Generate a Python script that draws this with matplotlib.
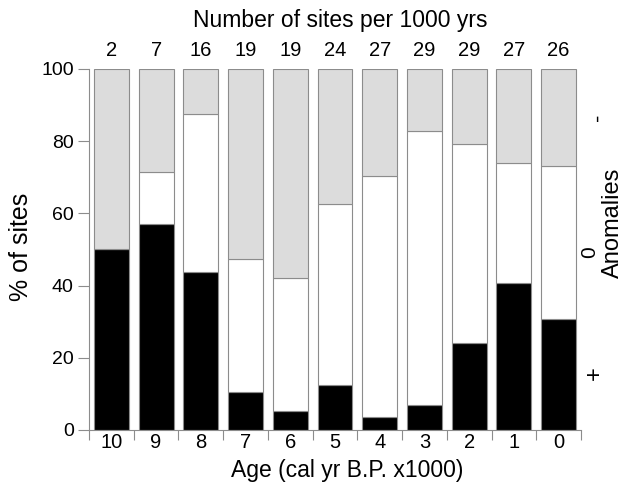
import numpy as np
import matplotlib.pyplot as plt

plt.rcParams['font.family'] = ['Liberation Sans', 'DejaVu Sans']

ages = ["10", "9", "8", "7", "6", "5", "4", "3", "2", "1", "0"]
n_sites = [2, 7, 16, 19, 19, 24, 27, 29, 29, 27, 26]
# percent of sites per anomaly class
pct_pos = [50.0, 57.1, 43.8, 10.5, 5.3, 12.5, 3.7, 6.9, 24.1, 40.7, 30.8]
pct_zero = [0.0, 14.3, 43.7, 36.9, 36.8, 50.0, 66.7, 75.9, 55.2, 33.3, 42.3]
pct_neg = [50.0, 28.6, 12.5, 52.6, 57.9, 37.5, 29.6, 17.2, 20.7, 26.0, 26.9]


def main():
    fig = plt.figure(figsize=(6.23, 4.87), dpi=100)
    ax = fig.add_axes([89 / 623, 57 / 487, 492 / 623, 361 / 487])

    x = np.arange(len(ages))
    pos = np.array(pct_pos)
    zero = np.array(pct_zero)
    neg = np.array(pct_neg)
    edge = "#8c8c8c"
    w = 0.78
    ax.bar(x, pos, w, color="black", edgecolor=edge, linewidth=0.8, zorder=2)
    ax.bar(x, zero, w, bottom=pos, color="white", edgecolor=edge, linewidth=0.8, zorder=2)
    ax.bar(x, neg, w, bottom=pos + zero, color="#dcdcdc", edgecolor=edge, linewidth=0.8, zorder=2)

    ax.set_xlim(-0.5, len(ages) - 0.5)
    ax.set_ylim(0, 100)

    for s in ["top", "right"]:
        ax.spines[s].set_visible(False)
    for s in ["left", "bottom"]:
        ax.spines[s].set_color("#8c8c8c")
        ax.spines[s].set_linewidth(0.8)

    ax.set_yticks([0, 20, 40, 60, 80, 100])
    ax.tick_params(axis="y", length=8, width=0.8, color="#8c8c8c", labelsize=14, pad=3)
    ax.set_xticks(np.arange(len(ages) + 1) - 0.5)
    ax.set_xticklabels([])
    ax.tick_params(axis="x", length=7, width=0.8, color="#8c8c8c")
    for i, lab in enumerate(ages):
        ax.text(i, -0.8, lab, ha="center", va="top", fontsize=14.5)
        ax.text(i, 103.6, str(n_sites[i]), ha="center", va="baseline", fontsize=14.5)

    fig.text(21 / 623, 1 - 247 / 487, "% of sites", ha="center", va="center", rotation=90, fontsize=18)
    fig.text(347 / 623, 1 - 471 / 487, "Age (cal yr B.P. x1000)", ha="center", va="center", fontsize=16.5)
    fig.text(340 / 623, 1 - 20 / 487, "Number of sites per 1000 yrs", ha="center", va="center", fontsize=16.5)

    fig.text(598 / 623, 1 - 117 / 487, "-", ha="center", va="center", rotation=90, fontsize=16)
    fig.text(590 / 623, 1 - 252 / 487, "0", ha="center", va="center", rotation=90, fontsize=15)
    fig.text(595 / 623, 1 - 373 / 487, "+", ha="center", va="center", rotation=90, fontsize=17)
    fig.text(613 / 623, 1 - 223 / 487, "Anomalies", ha="center", va="center", rotation=90, fontsize=17)

    fig.savefig("out.png", dpi=100)


if __name__ == '__main__':
    main()
